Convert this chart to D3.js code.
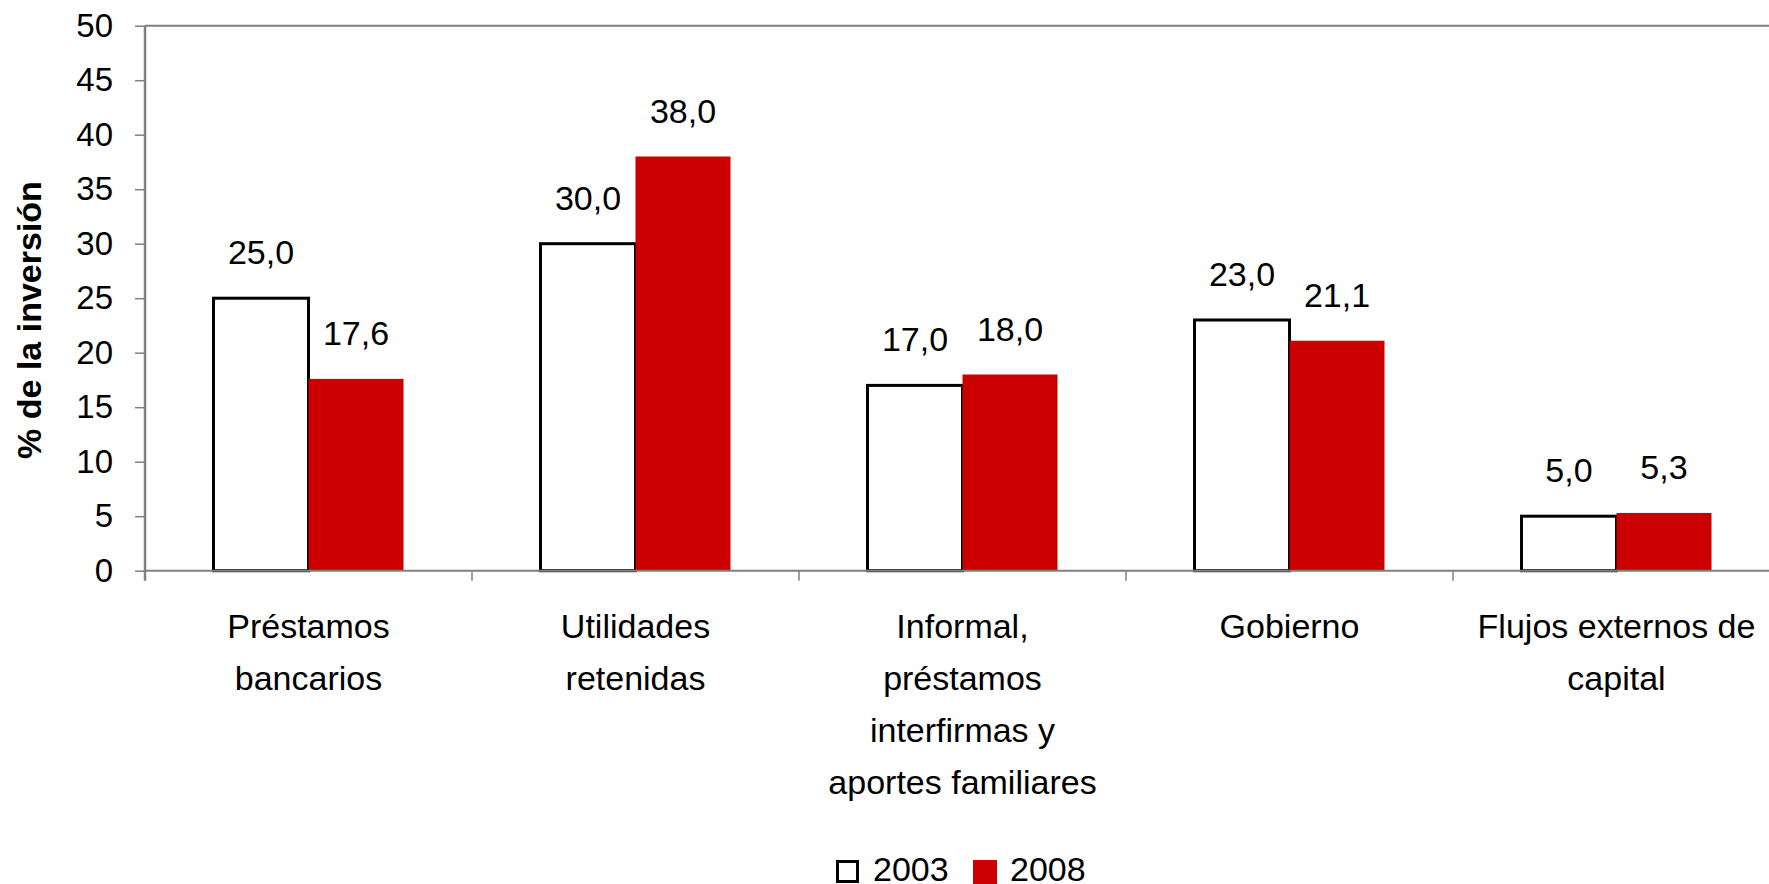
<!DOCTYPE html>
<html>
<head>
<meta charset="utf-8">
<script src="https://cdn.jsdelivr.net/npm/d3@7"></script>
<style>
  body { margin: 0; background: #fff; }
  svg { display: block; font-family: "Liberation Sans", Arial, sans-serif; }
</style>
</head>
<body>
<svg class="chart" width="1769" height="884"></svg>
<script>
var categories = [
  ["Préstamos", "bancarios"],
  ["Utilidades", "retenidas"],
  ["Informal,", "préstamos", "interfirmas y", "aportes familiares"],
  ["Gobierno"],
  ["Flujos externos de", "capital"]
];
var years = ["2003", "2008"];
var values2003 = [25.0, 30.0, 17.0, 23.0, 5.0];
var values2008 = [17.6, 38.0, 18.0, 21.1, 5.3];
var yTicks = [0, 5, 10, 15, 20, 25, 30, 35, 40, 45, 50];
var yLabel = "% de la inversión";

var series = [values2003, values2008];
var colors = {"2003": "#ffffff", "2008": "#cc0000"};

// plot area (right edge runs past the picture, as in the original)
var pa_left = 145, pa_top = 25.7, pa_bottom = 570.7, bandW = 327;
var pa_right = pa_left + bandW * categories.length;

var svg = d3.select('.chart');

var x0 = d3.scaleBand().domain(d3.range(categories.length)).range([pa_left, pa_right]);
var x1 = d3.scaleBand().domain(years).range([0, 190]);
var y = d3.scaleLinear().domain([0, 50]).range([pa_bottom, pa_top]);

// frame of plot area
svg.append('line').attr('x1', pa_left).attr('x2', pa_right).attr('y1', y(50)).attr('y2', y(50))
  .attr('stroke', '#808080').attr('stroke-width', 2);

// bars
var groups = svg.append('g').selectAll('g')
  .data(categories)
  .enter().append('g')
  .attr('transform', function(d, i) { return 'translate(' + (x0(i) + (bandW - 190) / 2) + ',0)'; });

function rows(d, i) {
  return years.map(function(yr, j) { return {year: yr, value: series[j][i]}; });
}

groups.selectAll('rect')
  .data(rows)
  .enter().append('rect')
  .attr('x', function(d) { return x1(d.year); })
  .attr('y', function(d) { return y(d.value); })
  .attr('width', x1.bandwidth())
  .attr('height', function(d) { return y(0) - y(d.value); })
  .attr('fill', function(d) { return colors[d.year]; })
  .attr('stroke', function(d) { return d.year == "2003" ? '#000' : 'none'; })
  .attr('stroke-width', 3);

groups.selectAll('text')
  .data(rows)
  .enter().append('text')
  .attr('x', function(d) { return x1(d.year) + x1.bandwidth() / 2; })
  .attr('y', function(d) { return y(d.value) - 34; })
  .attr('text-anchor', 'middle')
  .attr('font-size', 34)
  .attr('fill', '#000')
  .text(function(d) { return d3.format('.1f')(d.value).replace('.', ','); });

// y axis
var yAxis = svg.append('g')
  .attr('transform', 'translate(' + pa_left + ',0)')
  .call(d3.axisLeft(y).tickValues(yTicks).tickSize(10).tickPadding(22).tickSizeOuter(0));
yAxis.select('.domain').attr('stroke', '#808080').attr('stroke-width', 2.5)
  .attr('d', 'M0,' + y(50) + 'V' + (y(0) + 10));
yAxis.selectAll('.tick line').attr('stroke', '#808080').attr('stroke-width', 1.5);
yAxis.selectAll('.tick text').attr('font-size', 33).attr('fill', '#000')
  .attr('font-family', '"Liberation Sans", Arial, sans-serif');

// x axis baseline with category separators
svg.append('line').attr('x1', pa_left).attr('x2', pa_right).attr('y1', y(0)).attr('y2', y(0))
  .attr('stroke', '#808080').attr('stroke-width', 2);
svg.append('g').selectAll('line')
  .data(d3.range(1, categories.length))
  .enter().append('line')
  .attr('x1', function(d) { return pa_left + d * bandW; })
  .attr('x2', function(d) { return pa_left + d * bandW; })
  .attr('y1', y(0)).attr('y2', y(0) + 10)
  .attr('stroke', '#808080').attr('stroke-width', 1.5);

// category labels
svg.append('g').selectAll('text')
  .data(categories)
  .enter().append('text')
  .attr('text-anchor', 'middle')
  .attr('font-size', 34)
  .attr('fill', '#000')
  .each(function(d, i) {
    var t = d3.select(this);
    d.forEach(function(line, k) {
      t.append('tspan')
        .attr('x', x0(i) + bandW / 2)
        .attr('y', 638 + k * 52)
        .text(line);
    });
  });

// y label
svg.append('text')
  .attr('transform', 'translate(41,320) rotate(-90)')
  .attr('text-anchor', 'middle')
  .attr('font-size', 34)
  .attr('font-weight', 'bold')
  .attr('fill', '#000')
  .text(yLabel);

// legend
var legend = svg.append('g').attr('class', 'legend');
var legendX = [836, 973];
years.forEach(function(yr, i) {
  legend.append('rect')
    .attr('x', legendX[i] + (yr == "2003" ? 1.5 : 0))
    .attr('y', 860 + (yr == "2003" ? 1.5 : 0))
    .attr('width', yr == "2003" ? 20 : 24)
    .attr('height', yr == "2003" ? 20 : 24)
    .attr('fill', colors[yr])
    .attr('stroke', yr == "2003" ? '#000' : 'none')
    .attr('stroke-width', 3);
  legend.append('text')
    .attr('x', legendX[i] + 37)
    .attr('y', 881)
    .attr('font-size', 34)
    .attr('fill', '#000')
    .text(yr);
});
</script>
</body>
</html>
